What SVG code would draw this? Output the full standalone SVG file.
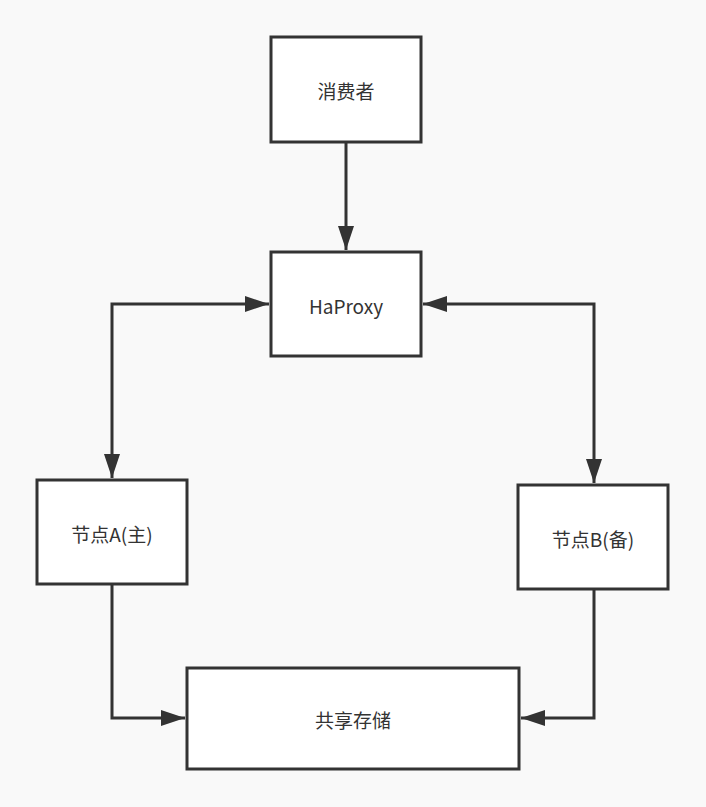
<svg xmlns="http://www.w3.org/2000/svg" width="706" height="807" viewBox="0 0 706 807">
<defs>
<style>
.box{fill:#ffffff;stroke:#333333;stroke-width:3}
.lbl{font-family:"Noto Sans CJK SC","Microsoft YaHei",sans-serif;font-size:19px;fill:#333333;text-anchor:middle;dominant-baseline:central}
.edge{fill:none;stroke:#333333;stroke-width:3}
</style>
<marker id="arr" markerUnits="userSpaceOnUse" markerWidth="26" markerHeight="18" viewBox="0 0 26 18" refX="25" refY="9" orient="auto-start-reverse">
<path d="M1,1 L25,9 L1,17 Z" fill="#333333"/>
</marker>
</defs>
<rect width="706" height="807" fill="#f9f9f9"/>
<g id="connectors">
<path class="edge" d="M346,142 L346,250" marker-end="url(#arr)"/>
<path class="edge" d="M112,478 L112,304 L269,304" marker-start="url(#arr)" marker-end="url(#arr)"/>
<path class="edge" d="M423,304 L594,304 L594,483" marker-start="url(#arr)" marker-end="url(#arr)"/>
<path class="edge" d="M112,584 L112,718 L185,718" marker-end="url(#arr)"/>
<path class="edge" d="M594,589 L594,718 L521,718" marker-end="url(#arr)"/>
</g>
<g id="consumer">
<rect class="box" x="271" y="37" width="150" height="105"/>
<text class="lbl" x="346" y="90">消费者</text>
</g>
<g id="haproxy">
<rect class="box" x="271" y="252" width="150" height="104"/>
<text class="lbl" x="346" y="305">HaProxy</text>
</g>
<g id="nodeA">
<rect class="box" x="37" y="480" width="150" height="104"/>
<text class="lbl" x="112" y="533">节点A(主)</text>
</g>
<g id="nodeB">
<rect class="box" x="518" y="485" width="150" height="104"/>
<text class="lbl" x="593" y="538">节点B(备)</text>
</g>
<g id="storage">
<rect class="box" x="187" y="668" width="332" height="101"/>
<text class="lbl" x="353" y="719">共享存储</text>
</g>
</svg>
